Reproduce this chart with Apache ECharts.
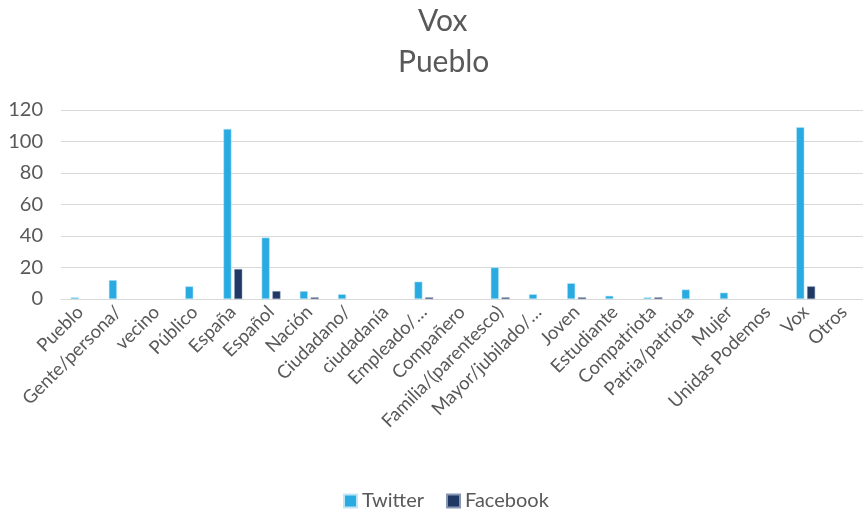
<!DOCTYPE html>
<html><head><meta charset="utf-8">
<script src="https://cdn.jsdelivr.net/npm/echarts@6/dist/echarts.min.js"></script>
<style>html,body{margin:0;padding:0;background:#fff}#c{width:863px;height:513px}</style>
</head><body><div id="c"></div>
<script>
const categories = ["Pueblo","Gente/persona/","vecino","Público","España","Español","Nación","Ciudadano/","ciudadanía","Empleado/…","Compañero","Familia/(parentesco)","Mayor/jubilado/…","Joven","Estudiante","Compatriota","Patria/patriota","Mujer","Unidas Podemos","Vox","Otros"];
const twitter = [1,12,0,8,108,39,5,3,0,11,0,20,3,10,2,1,6,4,0,109,0];
const facebook = [0,0,0,0,19,5,1,0,0,1,0,1,0,1,0,1,0,0,0,8,0];
const yTicks = [0,20,40,60,80,100,120];
const titleLines = ['Vox','Pueblo'];

const chart = echarts.init(document.getElementById('c'));
const font = 'Lato, "Open Sans", sans-serif';
const nz = a => a.map(v => v === 0 ? '-' : v);
const tStyle = {fontFamily:font,fontSize:30,fontWeight:'normal',color:'#595959'};
chart.setOption({
  animation:false,
  title:[
    {text:titleLines[0],left:413,top:1,textStyle:tStyle},
    {text:titleLines[1],left:393,top:42,textStyle:tStyle}
  ],
  legend:{top:486,left:338,itemWidth:13,itemHeight:13,itemGap:22,icon:'rect',
    textStyle:{fontFamily:font,fontSize:20,color:'#595959'},data:['Twitter','Facebook']},
  grid:{left:61,top:110,width:807,height:189,containLabel:false},
  xAxis:{type:'category',data:categories,
    axisLine:{lineStyle:{color:'#D9D9D9'}},axisTick:{show:false},
    axisLabel:{rotate:45,interval:0,fontFamily:font,fontSize:18.5,color:'#595959',margin:10}},
  yAxis:{type:'value',min:yTicks[0],max:yTicks[yTicks.length-1],interval:20,
    axisLine:{show:false},axisTick:{show:false},
    splitLine:{lineStyle:{color:'#D9D9D9',width:1}},
    axisLabel:{fontFamily:font,fontSize:20,color:'#595959',margin:18}},
  series:[
    {name:'Twitter',type:'bar',data:nz(twitter),barWidth:8,barGap:'35%',
      itemStyle:{color:'#29ABE2',borderColor:'#BFE6F7',borderWidth:0.5}},
    {name:'Facebook',type:'bar',data:nz(facebook),barWidth:8,
      itemStyle:{color:'#1F3864',borderColor:'#8896B3',borderWidth:0.5}}
  ]
});
</script></body></html>
